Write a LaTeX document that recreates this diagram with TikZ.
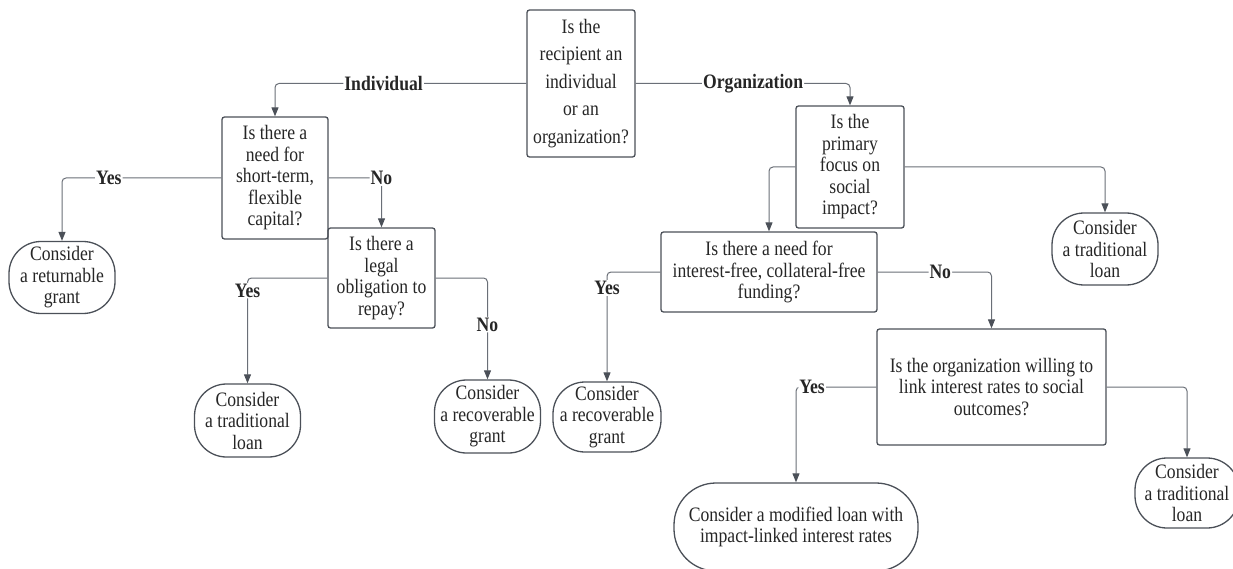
\documentclass[tikz,border=0pt]{standalone}
\usepackage{fontspec}
\setmainfont[FakeStretch=0.86]{Liberation Serif}
\usetikzlibrary{arrows.meta}
\definecolor{boxgray}{HTML}{4B5058}
\definecolor{linegray}{HTML}{6A6F77}
\definecolor{txtgray}{HTML}{262626}

\begin{document}
\begin{tikzpicture}[x=1pt, y=-1pt,
  every node/.style={font=\fontsize{20.5}{21.5}\selectfont, text=txtgray},
  question/.style={draw=boxgray, line width=1.3pt, rounded corners=2.5pt, align=center, inner sep=2pt},
  outcome/.style={draw=boxgray, line width=1.3pt, rounded corners=32pt, align=center, inner sep=1pt,
    minimum width=106, minimum height=72},
  flow/.style={draw=linegray, line width=1pt, rounded corners=4pt, -{Triangle[length=9pt,width=7pt,color=boxgray]}},
  answer/.style={font=\fontsize{20.5}{21.5}\selectfont\bfseries, fill=white, inner sep=1pt}]

\useasboundingbox (0,0) rectangle (1233,569);

\node[question, minimum width=108, minimum height=147, font=\fontsize{20.5}{27.5}\selectfont] (recipient) at (581,83.5)
  {Is the\\recipient an\\individual\\or an\\organization?};

\node[question, minimum width=106, minimum height=122] (shortterm) at (275,178)
  {Is there a\\need for\\short-term,\\flexible\\capital?};
\node[question, minimum width=107, minimum height=100] (legal) at (381.5,278)
  {Is there a\\legal\\obligation to\\repay?};
\node[outcome] (returnable) at (62,277.5) {Consider\\a returnable\\grant};
\node[outcome, minimum height=73] (loanA) at (247.5,420.5) {Consider\\a traditional\\loan};
\node[outcome, minimum height=73] (recoverA) at (487.5,416.5) {Consider\\a recoverable\\grant};

\node[question, minimum width=108, minimum height=122] (focus) at (850,167)
  {Is the\\primary\\focus on\\social\\impact?};
\node[question, minimum width=216, minimum height=80] (interest) at (769,272)
  {Is there a need for\\interest-free, collateral-free\\funding?};
\node[question, minimum width=229, minimum height=116] (willing) at (991.5,387)
  {Is the organization willing to\\link interest rates to social\\outcomes?};
\node[outcome] (loanB) at (1105,249) {Consider\\a traditional\\loan};
\node[outcome, minimum width=108, minimum height=70] (recoverB) at (607,417) {Consider\\a recoverable\\grant};
\node[outcome, minimum width=244, minimum height=88, rounded corners=42pt] (modified) at (796,527)
  {Consider a modified loan with\\impact-linked interest rates};
\node[outcome, minimum width=104, minimum height=70] (loanC) at (1187,493) {Consider\\a traditional\\loan};

\draw[flow] (recipient.west) -| node[answer, pos=0.284] {Individual} (shortterm.north);
\draw[flow] (recipient.east) -| node[answer, pos=0.274] {Organization} (focus.north);

\draw[flow] (shortterm.west) -| node[answer, pos=0.353] {Yes} (returnable.north);
\draw[flow] (shortterm.east) -| node[answer, pos=0.5] {No} (legal.north);
\draw[flow] (legal.west) -| node[answer, pos=0.56] {Yes} (loanA.north);
\draw[flow] (legal.east) -| node[answer, pos=0.73] {No} (recoverA.north);

\draw[flow] (focus.west) -| (interest.north);
\draw[flow] (focus.east) -| (loanB.north);
\draw[flow] (interest.west) -| node[answer, pos=0.573] {Yes} (recoverB.north);
\draw[flow] (interest.east) -| node[answer, pos=0.275] {No} (willing.north);
\draw[flow] (willing.west) -| node[answer, pos=0.4] {Yes} (modified.north);
\draw[flow] (willing.east) -| (loanC.north);
\end{tikzpicture}
\end{document}
